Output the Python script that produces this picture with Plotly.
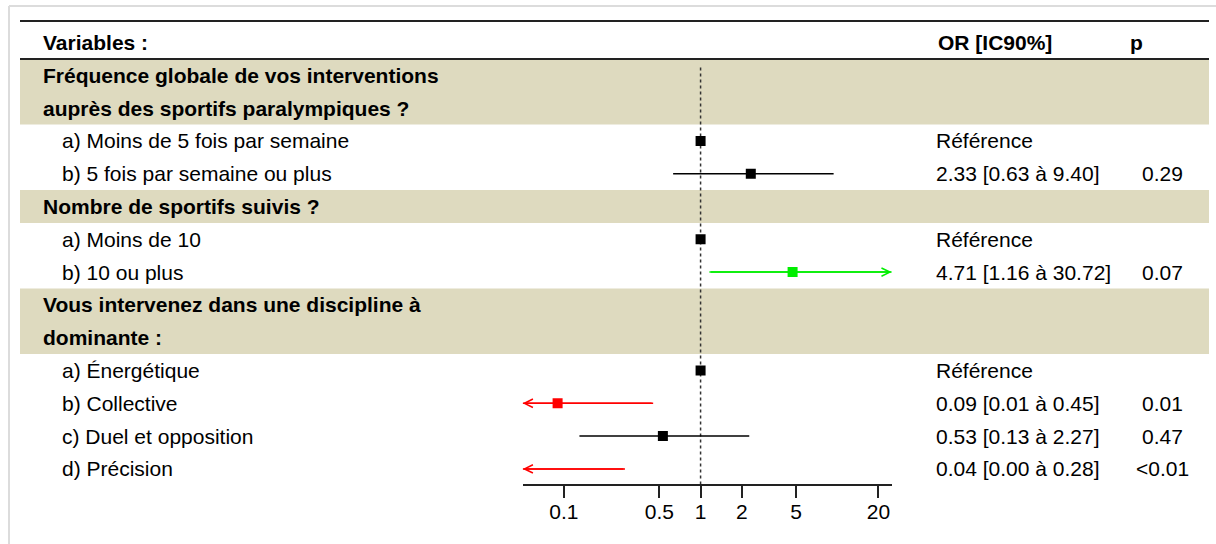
import math
import plotly.graph_objects as go

W, H = 1216, 544

# ---------------- data ----------------
row_labels = [
    "Variables :",
    "Fréquence globale de vos interventions",
    "auprès des sportifs paralympiques ?",
    "a) Moins de 5 fois par semaine",
    "b) 5 fois par semaine ou plus",
    "Nombre de sportifs suivis ?",
    "a) Moins de 10",
    "b) 10 ou plus",
    "Vous intervenez dans une discipline à",
    "dominante :",
    "a) Énergétique",
    "b) Collective",
    "c) Duel et opposition",
    "d) Précision",
]
bold_rows = [0, 1, 2, 5, 8, 9]
band_rows = [(1, 2), (5, 5), (8, 9)]

item_rows = [3, 4, 6, 7, 10, 11, 12, 13]
odds_ratio = [1, 2.33, 1, 4.71, 1, 0.09, 0.53, 0.04]
ci_lower = [None, 0.63, None, 1.16, None, 0.01, 0.13, 0.00]
ci_upper = [None, 9.40, None, 30.72, None, 0.45, 2.27, 0.28]
or_text = ["Référence", "2.33 [0.63 à 9.40]", "Référence", "4.71 [1.16 à 30.72]",
           "Référence", "0.09 [0.01 à 0.45]", "0.53 [0.13 à 2.27]", "0.04 [0.00 à 0.28]"]
p_text = ["", "0.29", "", "0.07", "", "0.01", "0.47", "<0.01"]
item_colors = ["#000000", "#000000", "#000000", "#00ee00",
               "#000000", "#ff0000", "#000000", "#ff0000"]

tick_vals = [0.1, 0.5, 1, 2, 5, 20]
tick_text = ["0.1", "0.5", "1", "2", "5", "20"]
x_min, x_max = 0.05, 25

# ---------------- layout helpers ----------------
ROW0_PX, ROW_STEP = 42.5, 32.8
y_top = -ROW0_PX / ROW_STEP
y_bot = (H - ROW0_PX) / ROW_STEP
FONT = "Liberation Sans, Arial, sans-serif"
FS = 21
BAND = "#dedabf"

def px(xp):
    return xp / W

def py(yp):
    return 1 - yp / H

fig = go.Figure()

# reference dotted line at OR = 1
fig.add_trace(go.Scatter(x=[1, 1], y=[0.76, 13.48], mode="lines",
                         line=dict(color="#333333", width=1.5, dash="dot"),
                         hoverinfo="skip", showlegend=False))

annotations = []
for i, r in enumerate(item_rows):
    col = item_colors[i]
    lo, hi = ci_lower[i], ci_upper[i]
    if lo is not None and hi is not None:
        lo_c, hi_c = max(lo, x_min), min(hi, x_max)
        fig.add_trace(go.Scatter(x=[lo_c, hi_c], y=[r, r], mode="lines",
                                 line=dict(color=col, width=1.5),
                                 hoverinfo="skip", showlegend=False))
        if lo < x_min:
            annotations.append(dict(x=math.log10(x_min), y=r, xref="x", yref="y",
                                    ax=math.log10(hi_c), ay=r, axref="x", ayref="y",
                                    showarrow=True, arrowhead=5, arrowsize=1.1,
                                    arrowwidth=1.5, arrowcolor=col, text=""))
        if hi > x_max:
            annotations.append(dict(x=math.log10(x_max), y=r, xref="x", yref="y",
                                    ax=math.log10(lo_c), ay=r, axref="x", ayref="y",
                                    showarrow=True, arrowhead=5, arrowsize=1.1,
                                    arrowwidth=1.5, arrowcolor=col, text=""))
    if x_min <= odds_ratio[i] <= x_max:
        fig.add_trace(go.Scatter(x=[odds_ratio[i]], y=[r], mode="markers",
                                 marker=dict(symbol="square", size=10, color=col,
                                             line=dict(width=0)),
                                 hoverinfo="skip", showlegend=False))

# text columns
for k, lab in enumerate(row_labels):
    indent = 60 if k not in bold_rows else 41
    txt = f"<b>{lab}</b>" if k in bold_rows else lab
    annotations.append(dict(x=px(indent), y=k, xref="paper", yref="y", text=txt,
                            showarrow=False, xanchor="left", yanchor="middle",
                            font=dict(family=FONT, size=FS, color="black")))

annotations.append(dict(x=px(935.5), y=0, xref="paper", yref="y", text="<b>OR [IC90%]</b>",
                        showarrow=False, xanchor="left", yanchor="middle",
                        font=dict(family=FONT, size=FS, color="black")))
annotations.append(dict(x=px(1136.5), y=0, xref="paper", yref="y", text="<b>p</b>",
                        showarrow=False, xanchor="center", yanchor="middle",
                        font=dict(family=FONT, size=FS, color="black")))
for i, r in enumerate(item_rows):
    annotations.append(dict(x=px(934), y=r, xref="paper", yref="y", text=or_text[i],
                            showarrow=False, xanchor="left", yanchor="middle",
                            font=dict(family=FONT, size=FS, color="black")))
    if p_text[i]:
        annotations.append(dict(x=px(1162.5), y=r, xref="paper", yref="y", text=p_text[i],
                                showarrow=False, xanchor="center", yanchor="middle",
                                font=dict(family=FONT, size=FS, color="black")))

shapes = []
for a, b in band_rows:
    shapes.append(dict(type="rect", xref="paper", yref="y", x0=px(20), x1=px(1209),
                       y0=a - 0.5, y1=b + 0.5, fillcolor=BAND, line=dict(width=0),
                       layer="below"))
# header rules
for yp in (21, 59):
    shapes.append(dict(type="line", xref="paper", yref="paper", x0=px(20), x1=px(1209),
                       y0=py(yp), y1=py(yp), line=dict(color="#222222", width=2)))
# outer light frame
shapes.append(dict(type="line", xref="paper", yref="paper", x0=px(9), x1=1,
                   y0=py(6), y1=py(6), line=dict(color="#dcdcdc", width=2)))
shapes.append(dict(type="line", xref="paper", yref="paper", x0=px(9), x1=px(9),
                   y0=py(6), y1=0, line=dict(color="#dcdcdc", width=2)))

fig.update_layout(
    width=W, height=H,
    margin=dict(l=0, r=0, t=0, b=0),
    paper_bgcolor="white", plot_bgcolor="rgba(0,0,0,0)",
    showlegend=False,
    xaxis=dict(type="log", range=[math.log10(x_min), math.log10(x_max)],
               domain=[px(522.7), px(891.7)], anchor="free", position=py(485),
               showgrid=False, zeroline=False, showline=True, linecolor="#222222",
               linewidth=1.5, ticks="outside", ticklen=12, tickwidth=1.5,
               tickcolor="#222222", tickvals=tick_vals, ticktext=tick_text,
               ticklabelstandoff=-4,
               tickfont=dict(family=FONT, size=FS, color="black")),
    yaxis=dict(range=[y_bot, y_top], domain=[0, 1], visible=False,
               showgrid=False, zeroline=False),
    annotations=annotations,
    shapes=shapes,
)

fig.write_html("out.html", config={"displayModeBar": False},
               post_script="document.body.style.margin='0';document.body.style.overflow='hidden';")
